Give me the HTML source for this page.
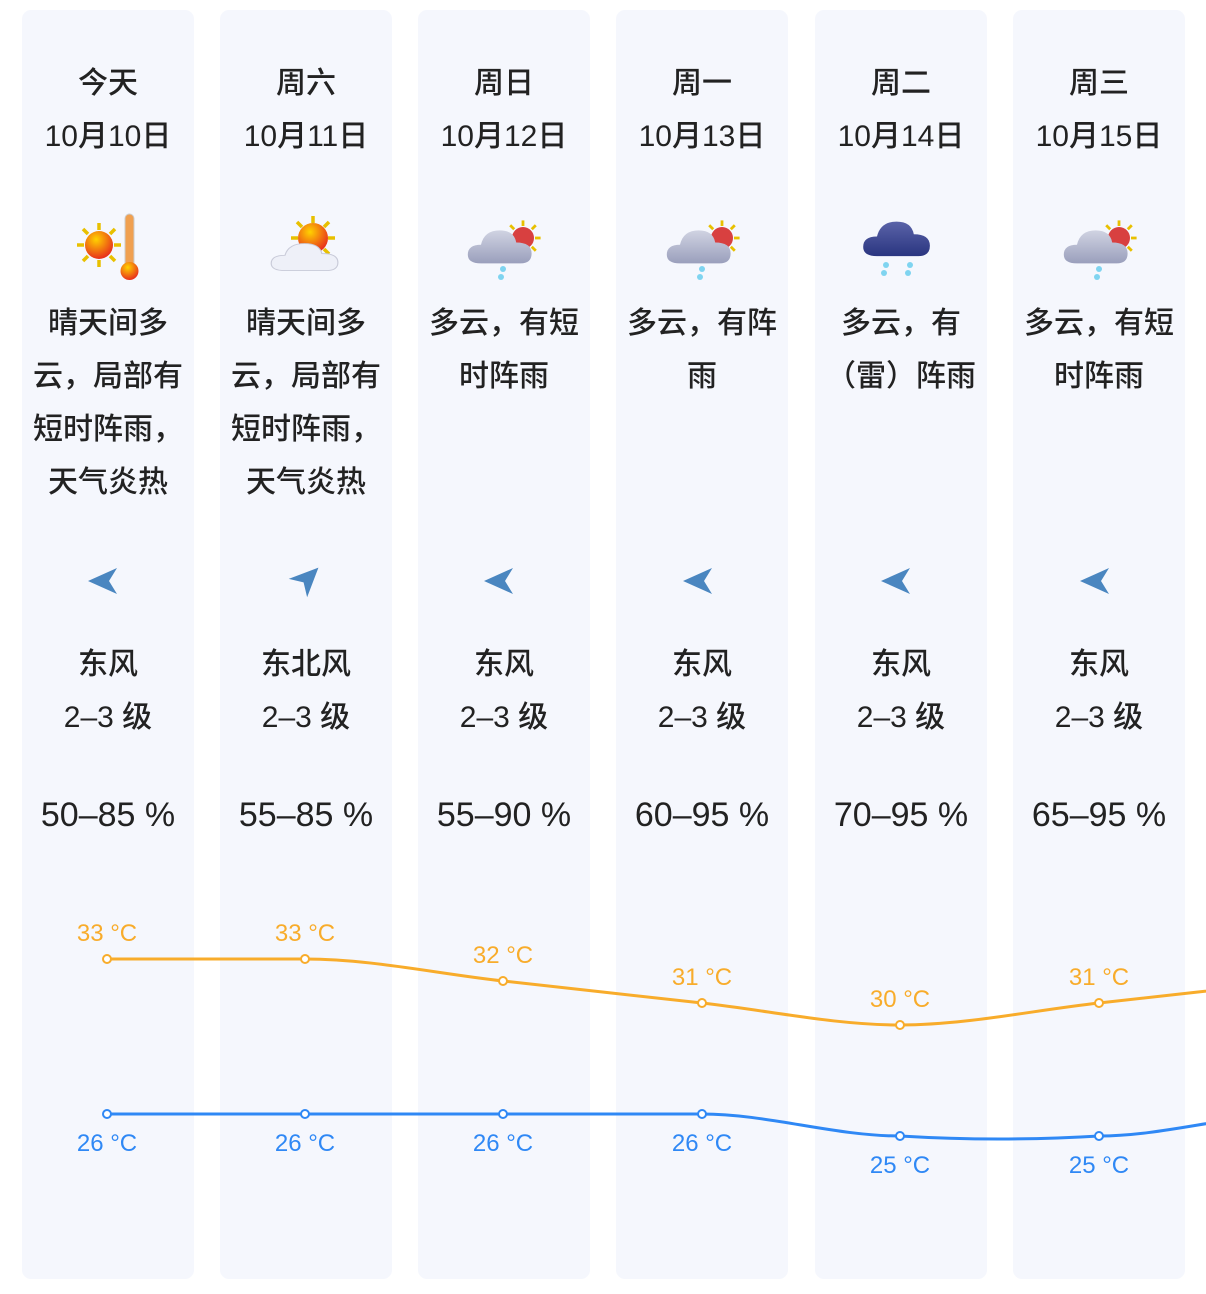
<!DOCTYPE html>
<html><head><meta charset="utf-8"><style>
body{margin:0;width:1206px;height:1294px;background:#fff;position:relative;overflow:hidden;font-family:"Liberation Sans","Noto Sans CJK SC",sans-serif;color:#222}
.col{position:absolute;top:10px;width:172px;height:1269px;background:#f5f7fd;border-radius:9px}
.t{position:absolute;left:0;width:172px;text-align:center;font-size:30px;line-height:53px;white-space:nowrap;font-weight:500}
.h{font-size:34px;font-weight:normal}
svg{position:absolute;left:0;top:0}
</style></head><body>
<div class="col" style="left:22px">
<div class="t" style="top:47px">今天<br>10月10日</div>
<div class="t" style="top:287px">晴天间多<br>云，局部有<br>短时阵雨，<br>天气炎热</div>
<div class="t" style="top:628px">东风<br>2–3 级</div>
<div class="t h" style="top:779px">50–85 %</div></div>
<div class="col" style="left:220px">
<div class="t" style="top:47px">周六<br>10月11日</div>
<div class="t" style="top:287px">晴天间多<br>云，局部有<br>短时阵雨，<br>天气炎热</div>
<div class="t" style="top:628px">东北风<br>2–3 级</div>
<div class="t h" style="top:779px">55–85 %</div></div>
<div class="col" style="left:418px">
<div class="t" style="top:47px">周日<br>10月12日</div>
<div class="t" style="top:287px">多云，有短<br>时阵雨</div>
<div class="t" style="top:628px">东风<br>2–3 级</div>
<div class="t h" style="top:779px">55–90 %</div></div>
<div class="col" style="left:616px">
<div class="t" style="top:47px">周一<br>10月13日</div>
<div class="t" style="top:287px">多云，有阵<br>雨</div>
<div class="t" style="top:628px">东风<br>2–3 级</div>
<div class="t h" style="top:779px">60–95 %</div></div>
<div class="col" style="left:815px">
<div class="t" style="top:47px">周二<br>10月14日</div>
<div class="t" style="top:287px">多云，有<br>（雷）阵雨</div>
<div class="t" style="top:628px">东风<br>2–3 级</div>
<div class="t h" style="top:779px">70–95 %</div></div>
<div class="col" style="left:1013px">
<div class="t" style="top:47px">周三<br>10月15日</div>
<div class="t" style="top:287px">多云，有短<br>时阵雨</div>
<div class="t" style="top:628px">东风<br>2–3 级</div>
<div class="t h" style="top:779px">65–95 %</div></div>

<svg width="1206" height="1294" viewBox="0 0 1206 1294">
<defs>
<radialGradient id="sg" cx="0.4" cy="0.3" r="0.7"><stop offset="0" stop-color="#ffd200"/><stop offset="1" stop-color="#e8301c"/></radialGradient>
<linearGradient id="cg" x1="0" y1="0" x2="0" y2="1"><stop offset="0" stop-color="#d0d3e2"/><stop offset="1" stop-color="#9a9fbc"/></linearGradient>
<linearGradient id="dg" x1="0" y1="0" x2="0" y2="1"><stop offset="0" stop-color="#5a63a8"/><stop offset="1" stop-color="#2a3580"/></linearGradient>
<g id="rays" stroke="#e8c000" stroke-width="3.5">
<line x1="0" y1="-22" x2="0" y2="-15"/><line x1="0" y1="22" x2="0" y2="15"/><line x1="-22" y1="0" x2="-15" y2="0"/><line x1="22" y1="0" x2="15" y2="0"/>
<line x1="-16" y1="-16" x2="-11" y2="-11"/><line x1="16" y1="-16" x2="11" y2="-11"/><line x1="-16" y1="16" x2="-11" y2="11"/><line x1="16" y1="16" x2="11" y2="11"/></g>
<g id="cloud"><path d="M-20 14 Q-32 14 -32 6 Q-32 -3 -20 -3 Q-17 -16 -3 -16 Q10 -16 12 -5 Q26 -5 26 5 Q26 14 16 14 Z"/></g>
<g id="rain1"><g transform="translate(0,-6)"><use href="#rays" transform="translate(20,0) scale(0.8)"/><circle cx="20" cy="0" r="11" fill="#d84040"/></g>
<use href="#cloud" fill="url(#cg)" transform="translate(0,4) scale(1.1)"/><circle cx="0" cy="25" r="3" fill="#7fd4f0"/><circle cx="-2" cy="33" r="3" fill="#7fd4f0"/></g>
<g id="arrowW" fill="#4a86c0"><path d="M-19 0 L10 -13 L2 0 L10 13 Z"/></g>
</defs>
<g transform="translate(99,245)"><use href="#rays"/><circle r="14" fill="url(#sg)"/></g>
<rect x="125" y="214" width="9" height="54" rx="4.5" fill="#f0a050" stroke="#ccc" stroke-width="1"/><circle cx="129.5" cy="271" r="9" fill="url(#sg)"/>
<g transform="translate(313,238)"><use href="#rays"/><circle r="15" fill="url(#sg)"/></g>
<g transform="translate(308,258) scale(1.15,0.9)"><use href="#cloud" fill="#eef0f8" stroke="#c8cad8"/></g>
<use href="#rain1" transform="translate(503,244)"/>
<use href="#rain1" transform="translate(702,244)"/>
<use href="#rain1" transform="translate(1099,244)"/>
<g transform="translate(900,240)"><use href="#cloud" fill="url(#dg)" transform="scale(1.15)"/><g fill="#7fd4f0"><circle cx="-14" cy="25" r="3"/><circle cx="-16" cy="33" r="3"/><circle cx="10" cy="25" r="3"/><circle cx="8" cy="33" r="3"/></g></g>
<use href="#arrowW" transform="translate(107,581)"/>
<use href="#arrowW" transform="translate(305,581) rotate(-45) scale(-1,1)"/>
<use href="#arrowW" transform="translate(503,581)"/>
<use href="#arrowW" transform="translate(702,581)"/>
<use href="#arrowW" transform="translate(900,581)"/>
<use href="#arrowW" transform="translate(1099,581)"/>
<path d="M107 959 C173 959,239 959,305 959 C371 959,437 973.7,503 981 C569 988.3,636 995.7,702 1003 C768 1010.3,834 1025,900 1025 C966 1025,1033 1010.3,1099 1003 C1165 995.7,1231 988.3,1297 981" fill="none" stroke="#f8ac2b" stroke-width="3"/>
<path d="M107 1114 L702 1114 C768 1114,834 1136,900 1136 C966 1140,1033 1140,1099 1136 C1165 1136,1231 1114,1297 1114" fill="none" stroke="#2f88f5" stroke-width="3"/>
<g fill="#fff" stroke="#f8ac2b" stroke-width="2"><circle cx="107" cy="959" r="4"/><circle cx="305" cy="959" r="4"/><circle cx="503" cy="981" r="4"/><circle cx="702" cy="1003" r="4"/><circle cx="900" cy="1025" r="4"/><circle cx="1099" cy="1003" r="4"/></g>
<g fill="#fff" stroke="#2f88f5" stroke-width="2"><circle cx="107" cy="1114" r="4"/><circle cx="305" cy="1114" r="4"/><circle cx="503" cy="1114" r="4"/><circle cx="702" cy="1114" r="4"/><circle cx="900" cy="1136" r="4"/><circle cx="1099" cy="1136" r="4"/></g>
<g font-family="Liberation Sans,sans-serif" font-size="24" fill="#f8ac2b" text-anchor="middle">
<text x="107" y="941">33 °C</text><text x="305" y="941">33 °C</text><text x="503" y="963">32 °C</text><text x="702" y="985">31 °C</text><text x="900" y="1007">30 °C</text><text x="1099" y="985">31 °C</text></g>
<g font-family="Liberation Sans,sans-serif" font-size="24" fill="#2f88f5" text-anchor="middle">
<text x="107" y="1151">26 °C</text><text x="305" y="1151">26 °C</text><text x="503" y="1151">26 °C</text><text x="702" y="1151">26 °C</text><text x="900" y="1173">25 °C</text><text x="1099" y="1173">25 °C</text></g>
</svg>
</body></html>
